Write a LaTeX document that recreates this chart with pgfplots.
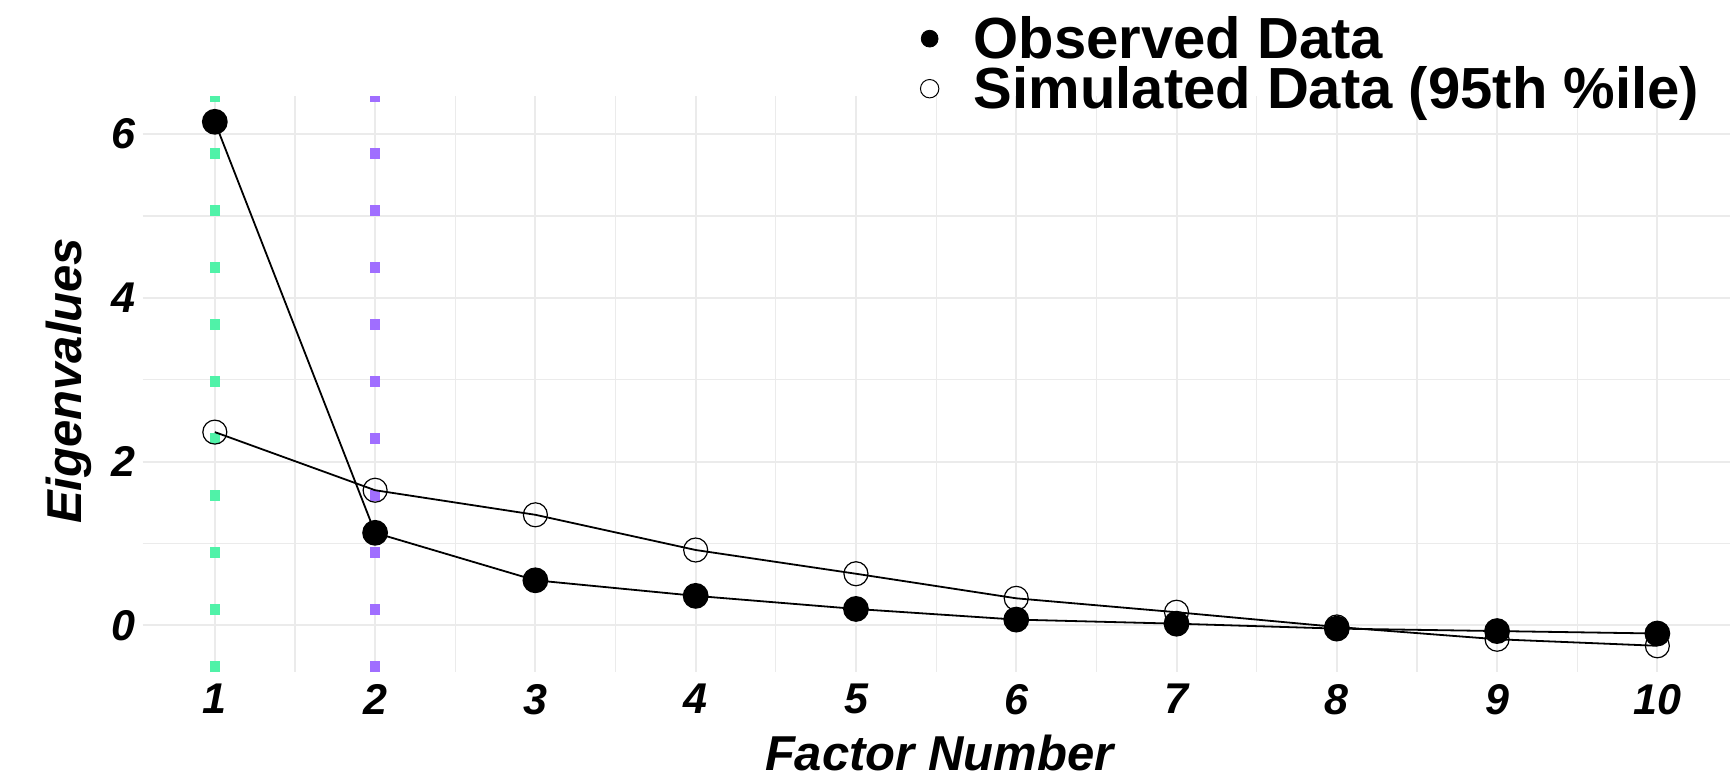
\documentclass[border=0pt]{standalone}
\usepackage{pgfplots}
\pgfplotsset{compat=1.18}
\usepackage{fontspec}
\setmainfont{Liberation Sans}
\definecolor{vgreen}{RGB}{80,242,168}
\definecolor{vpurple}{RGB}{160,110,255}
\definecolor{gridmaj}{RGB}{235,235,235}
\begin{document}
\begin{tikzpicture}
\useasboundingbox (0,0) rectangle (868pt,388.5pt);
\begin{axis}[
  at={(71.35pt,52.5pt)}, anchor=south west,
  width=793.4pt, height=288.2pt, scale only axis,
  xmin=0.55, xmax=10.45, ymin=-0.57, ymax=6.47,
  xtick={1,...,10}, ytick={0,2,4,6},
  minor x tick num=1, minor y tick num=1,
  grid=both,
  major grid style={gridmaj, line width=1pt},
  minor grid style={gridmaj, line width=0.6pt},
  axis line style={draw=none},
  major tick length=0pt, minor tick length=0pt,
  tick label style={font=\fontsize{21.5}{21.5}\selectfont\bfseries\itshape, text=black},
  xticklabel style={yshift=-2.5pt},
  /pgf/number format/assume math mode=true,
  xlabel={Factor Number}, ylabel={Eigenvalues},
  label style={font=\fontsize{24.5}{24.5}\selectfont\bfseries\itshape},
  xlabel style={at={(axis description cs:0.502,-0.140)}, anchor=center, inner sep=0pt},
  ylabel style={at={(axis description cs:-0.0467,0.505)}, anchor=center},
  legend cell align=left,
  legend image code/.code={\draw[#1] plot coordinates {(0pt,0pt)};},
  legend style={at={(axis description cs:0.4899,1.1385)}, anchor=north west,
    draw=none, fill=none, inner sep=0pt,
    font=\fontsize{29}{29}\selectfont\bfseries,
    nodes={inner sep=0pt}, row sep=2.5pt,
    /tikz/every odd column/.append style={column sep=17.5pt}},
]
\addplot[vgreen, line width=5pt, dash pattern=on 5.5pt off 23pt, forget plot] coordinates {(1,-0.57) (1,6.47)};
\addplot[vpurple, line width=5pt, dash pattern=on 5.5pt off 23pt, forget plot] coordinates {(2,-0.57) (2,6.47)};
\addplot[black, line width=0.9pt, mark=o, mark size=6pt, mark options={line width=0.6pt}, forget plot] coordinates {
(1,2.36) (2,1.65) (3,1.35) (4,0.92) (5,0.63) (6,0.33) (7,0.16) (8,-0.02) (9,-0.17) (10,-0.25)};
\addplot[black, line width=0.9pt, mark=*, mark size=6pt, forget plot] coordinates {
(1,6.15) (2,1.13) (3,0.55) (4,0.36) (5,0.20) (6,0.07) (7,0.02) (8,-0.04) (9,-0.07) (10,-0.10)};
\addlegendimage{only marks, mark=*, mark size=4.2pt, black}
\addlegendentry{Observed Data}
\addlegendimage{only marks, mark=o, mark size=4.6pt, black, mark options={line width=0.5pt}}
\addlegendentry{Simulated Data (95th \%ile)}
\end{axis}
\end{tikzpicture}
\end{document}
